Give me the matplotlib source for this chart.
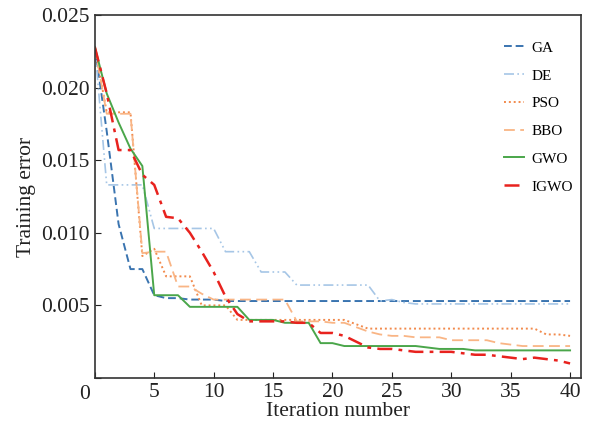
import numpy as np
import matplotlib
matplotlib.use("Agg")
import matplotlib.pyplot as plt
import matplotlib.transforms as mtransforms
from matplotlib.ticker import FuncFormatter

plt.rcParams['font.family'] = ['Liberation Serif', 'DejaVu Serif']

iters = np.arange(0, 41)

ga = [0.0228, 0.0170, 0.0106, 0.0075, 0.0075, 0.0057, 0.0055, 0.0055, 0.0054, 0.0054,
      0.0054] + [0.0053] * 30
de = [0.0228, 0.0133, 0.0133, 0.0133, 0.0133, 0.0103, 0.0103, 0.0103, 0.0103, 0.0103,
      0.0103, 0.0087, 0.0087, 0.0087, 0.0073, 0.0073, 0.0073, 0.0064, 0.0064, 0.0064,
      0.0064, 0.0064, 0.0064, 0.0064, 0.0053, 0.0054, 0.0052] + [0.0051] * 14
pso = [0.0228, 0.0183, 0.0183, 0.0183, 0.0084, 0.0089, 0.0070, 0.0070, 0.0070, 0.0050,
       0.0050, 0.0050, 0.0040, 0.0040, 0.0040, 0.0040, 0.0040, 0.0040, 0.0040, 0.0040,
       0.0040, 0.0040, 0.0037] + [0.0034] * 15 + [0.0030, 0.0030, 0.0029]
bbo = [0.0228, 0.0182, 0.0182, 0.0182, 0.0086, 0.0087, 0.0087, 0.0063, 0.0063, 0.0058,
       0.0054, 0.0054, 0.0054, 0.0054, 0.0054, 0.0054, 0.0054, 0.0039, 0.0039, 0.0039,
       0.0038, 0.0038, 0.0035, 0.0032, 0.0030, 0.0029, 0.0029, 0.0028, 0.0028, 0.0028,
       0.0026, 0.0026, 0.0026, 0.0026, 0.0024, 0.0023, 0.0022, 0.0022, 0.0022, 0.0022,
       0.0022]
gwo = [0.0228, 0.0196, 0.0176, 0.0158, 0.0146, 0.0057, 0.0057, 0.0057, 0.0049, 0.0049,
       0.0049, 0.0049, 0.0049, 0.0040, 0.0040, 0.0040, 0.0038, 0.0038, 0.0038, 0.0024,
       0.0024, 0.0022, 0.0022, 0.0022, 0.0022, 0.0022, 0.0022, 0.0022, 0.0021, 0.0020,
       0.0020, 0.0020] + [0.0019] * 9
igwo = [0.0228, 0.0196, 0.0157, 0.0157, 0.0140, 0.0133, 0.0111, 0.0110, 0.0100, 0.0087,
        0.0073, 0.0056, 0.0044, 0.0039, 0.0039, 0.0039, 0.0039, 0.0038, 0.0038, 0.0031,
        0.0031, 0.0029, 0.0025, 0.0021, 0.0020, 0.0020, 0.0019, 0.0018, 0.0018, 0.0018,
        0.0018, 0.0017, 0.0016, 0.0016, 0.0015, 0.0014, 0.0013, 0.0014, 0.0013, 0.0012,
        0.0010]

fig = plt.figure(figsize=(5.89, 4.30), dpi=100)
ax = fig.add_axes([0.161, 0.121, 0.825, 0.844])

ax.plot(iters, ga, color='#3a74b0', linestyle=(0, (4, 2)), lw=1.4, label='GA')
ax.plot(iters, de, color='#a6c6e6', linestyle=(0, (6, 2, 1, 2, 1, 2)), lw=1.2, label='DE')
ax.plot(iters, pso, color='#f28a4c', linestyle=(0, (1, 1.5)), lw=1.4, label='PSO')
ax.plot(iters, bbo, color='#f9b585', linestyle=(0, (6, 3)), lw=1.3, label='BBO')
ax.plot(iters, gwo, color='#4aa64a', linestyle='-', lw=1.4, label='GWO')
ax.plot(iters, igwo, color='#e8221e', linestyle=(0, (6, 2.5, 1.5, 2.5)), lw=1.8, label='IGWO')

ax.set_xlim(0, 40.9)
ax.set_ylim(0, 0.025)
ax.set_xticks(np.arange(0, 41, 5))
ax.set_yticks([0, 0.005, 0.010, 0.015, 0.020, 0.025])
ax.xaxis.set_major_formatter(FuncFormatter(lambda v, p: '' if v == 0 else f'{v:g}'))
ax.yaxis.set_major_formatter(FuncFormatter(lambda v, p: '0' if v == 0 else f'{v:.3f}'))
ax.tick_params(direction='in', labelsize=15.5, length=4, colors='#222222')
ax.set_xlabel('Iteration number', fontsize=15.5, labelpad=0, color='#222222')
ax.set_ylabel('Training error', fontsize=15.5, color='#222222')
for s in ax.spines.values():
    s.set_linewidth(1.2)
    s.set_color('#333333')

# single shared "0" at the origin, dropped to the x tick label row
fig.canvas.draw()
shift = mtransforms.ScaledTranslation(0, -14 / 100, fig.dpi_scale_trans)
ylabels = ax.get_yticklabels()
ylabels[0].set_transform(ylabels[0].get_transform() + shift)

ax.legend(loc='upper right', frameon=False, fontsize=11, handlelength=1.3,
          handletextpad=0.5, labelspacing=0.92, bbox_to_anchor=(1.013, 0.966))

fig.savefig('out.png', dpi=100)
